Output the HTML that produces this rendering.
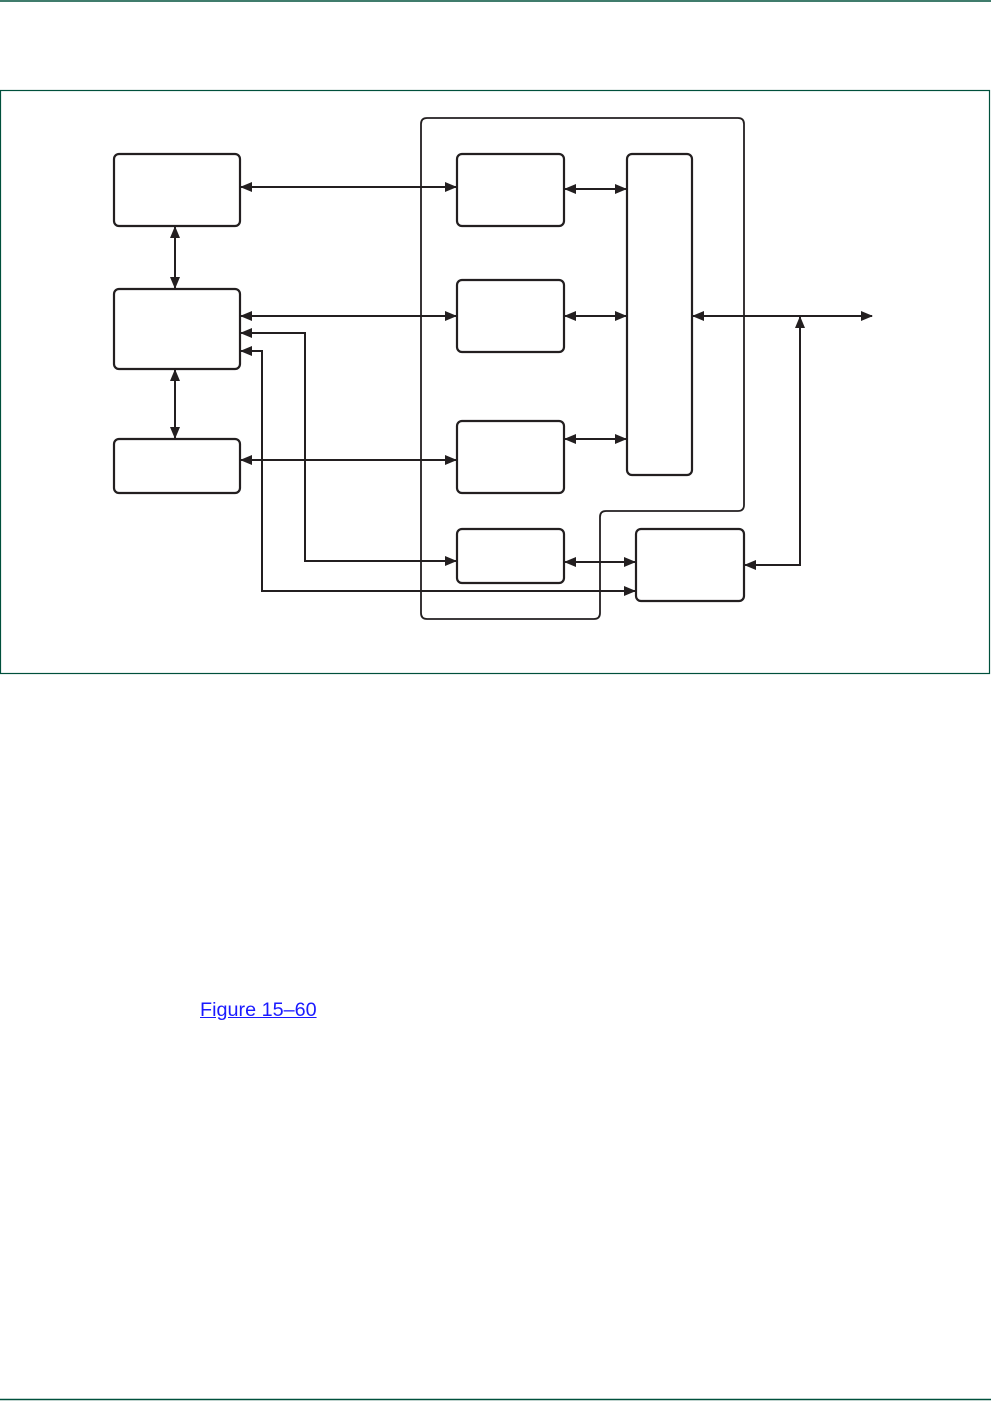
<!DOCTYPE html>
<html><head><meta charset="utf-8"><style>
html,body{margin:0;padding:0;background:#fff;width:991px;height:1401px;overflow:hidden;position:relative}
svg{position:absolute;left:0;top:0}
a{position:absolute;left:200px;top:999px;font-family:"Liberation Sans",sans-serif;font-size:19.8px;color:#1a1aff;text-decoration:underline}
</style></head><body>
<svg width="991" height="1401" viewBox="0 0 991 1401">
<defs>
<marker id="ar" markerWidth="12" markerHeight="10" refX="11" refY="5" orient="auto-start-reverse" markerUnits="userSpaceOnUse">
<path d="M0,0 L12,5 L0,10 Z" fill="#231f20"/></marker>
</defs>
<line x1="0" y1="1" x2="991" y2="1" stroke="#00503c" stroke-width="1.5"/>
<line x1="0" y1="1399.5" x2="991" y2="1399.5" stroke="#00503c" stroke-width="1.5"/>
<rect x="0.5" y="90.5" width="989" height="583" fill="none" stroke="#00503c" stroke-width="1.2"/>
<g fill="none" stroke="#231f20" stroke-width="2.2">
<path d="M427,118 H738 Q744,118 744,124 V505 Q744,511 738,511 H606 Q600,511 600,517 V613 Q600,619 594,619 H427 Q421,619 421,613 V124 Q421,118 427,118 Z" stroke-width="1.8"/>
<rect x="114" y="154" width="126" height="72" rx="5"/>
<rect x="114" y="289" width="126" height="80" rx="5"/>
<rect x="114" y="439" width="126" height="54" rx="5"/>
<rect x="457" y="154" width="107" height="72" rx="5"/>
<rect x="457" y="280" width="107" height="72" rx="5"/>
<rect x="457" y="421" width="107" height="72" rx="5"/>
<rect x="457" y="529" width="107" height="54" rx="5"/>
<rect x="627" y="154" width="65" height="321" rx="5"/>
<rect x="636" y="529" width="108" height="72" rx="5"/>
<g stroke-width="2">
<line x1="241" y1="187" x2="456" y2="187" marker-start="url(#ar)" marker-end="url(#ar)"/>
<line x1="175" y1="227" x2="175" y2="288" marker-start="url(#ar)" marker-end="url(#ar)"/>
<line x1="241" y1="316" x2="456" y2="316" marker-start="url(#ar)" marker-end="url(#ar)"/>
<line x1="175" y1="370" x2="175" y2="438" marker-start="url(#ar)" marker-end="url(#ar)"/>
<line x1="241" y1="460" x2="456" y2="460" marker-start="url(#ar)" marker-end="url(#ar)"/>
<path d="M456,561 H305 V333 H241" marker-start="url(#ar)" marker-end="url(#ar)"/>
<path d="M635,591 H262 V351 H241" marker-start="url(#ar)" marker-end="url(#ar)"/>
<line x1="565" y1="189" x2="626" y2="189" marker-start="url(#ar)" marker-end="url(#ar)"/>
<line x1="565" y1="316" x2="626" y2="316" marker-start="url(#ar)" marker-end="url(#ar)"/>
<line x1="565" y1="439" x2="626" y2="439" marker-start="url(#ar)" marker-end="url(#ar)"/>
<line x1="565" y1="562" x2="635" y2="562" marker-start="url(#ar)" marker-end="url(#ar)"/>
<line x1="693" y1="316" x2="872" y2="316" marker-start="url(#ar)" marker-end="url(#ar)"/>
<path d="M745,565 H800 V317" marker-start="url(#ar)" marker-end="url(#ar)"/>
</g>
</g>
</svg>
<a>Figure 15–60</a>
</body></html>
